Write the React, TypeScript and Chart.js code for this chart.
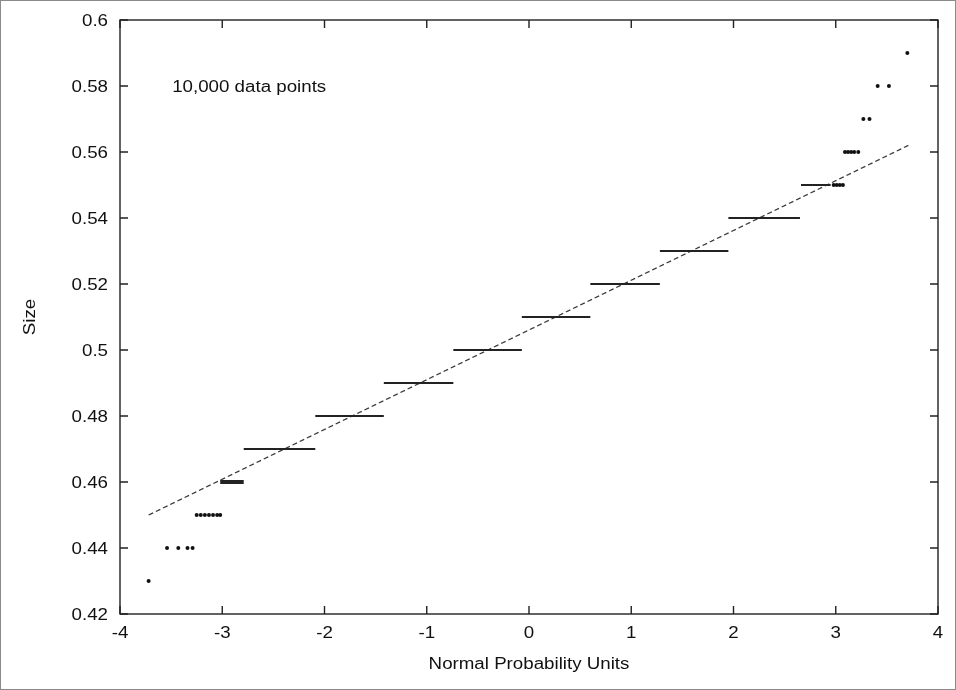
import React, { useEffect, useRef } from "react";
import { Chart, registerables } from "chart.js";

Chart.register(...registerables);

// Quantised size levels that appear as long runs of points
const levels = [0.46, 0.47, 0.48, 0.49, 0.5, 0.51, 0.52, 0.53, 0.54, 0.55];
const segStart = [-3.02, -2.79, -2.09, -1.42, -0.74, -0.07, 0.6, 1.28, 1.95, 2.66];
const segEnd = [-2.79, -2.09, -1.42, -0.74, -0.07, 0.6, 1.28, 1.95, 2.65, 2.95];

// Sparse points in the tails
const tailX = [
  -3.72,
  -3.54, -3.43, -3.34, -3.29,
  -3.25, -3.21, -3.17, -3.13, -3.09, -3.05, -3.02,
  2.98, 3.01, 3.04, 3.07,
  3.09, 3.12, 3.15, 3.18, 3.22,
  3.27, 3.33,
  3.41, 3.52,
  3.7,
];
const tailY = [
  0.43,
  0.44, 0.44, 0.44, 0.44,
  0.45, 0.45, 0.45, 0.45, 0.45, 0.45, 0.45,
  0.55, 0.55, 0.55, 0.55,
  0.56, 0.56, 0.56, 0.56, 0.56,
  0.57, 0.57,
  0.58, 0.58,
  0.59,
];

// Fitted normal line
const fitX = [-3.72, 3.71];
const fitY = [0.45, 0.562];

const xTicks = [-4, -3, -2, -1, 0, 1, 2, 3, 4];
const yTicks = [0.42, 0.44, 0.46, 0.48, 0.5, 0.52, 0.54, 0.56, 0.58, 0.6];

const FONT = "'Liberation Sans', Arial, Helvetica, sans-serif";
const INK = "#222222";
const STRETCH = 1.17;

// Text drawn slightly widened, in the style of the original PostScript output
function wideText(ctx: CanvasRenderingContext2D, text: string, x: number, y: number, align: CanvasTextAlign) {
  ctx.save();
  ctx.translate(x, y);
  ctx.scale(STRETCH, 1);
  ctx.textAlign = align;
  ctx.fillText(text, 0, 0);
  ctx.restore();
}

const fmtY = (v: number) => String(Number(v.toFixed(2)));

const framePlugin = {
  id: "frame",
  beforeDraw(chart: any) {
    const { ctx, width, height } = chart;
    ctx.save();
    ctx.fillStyle = "#ffffff";
    ctx.fillRect(0, 0, width, height);
    ctx.strokeStyle = "#8a8a8a";
    ctx.lineWidth = 1;
    ctx.strokeRect(0.5, 0.5, width - 1, height - 1);
    ctx.restore();
  },
  afterDraw(chart: any) {
    const { ctx, chartArea: a, scales } = chart;
    const xs = scales.x;
    const ys = scales.y;
    const tick = 8;
    ctx.save();
    ctx.strokeStyle = INK;
    ctx.lineWidth = 1.4;
    ctx.strokeRect(a.left, a.top, a.right - a.left, a.bottom - a.top);
    ctx.beginPath();
    xTicks.forEach((v) => {
      const px = xs.getPixelForValue(v);
      ctx.moveTo(px, a.bottom);
      ctx.lineTo(px, a.bottom - tick);
      ctx.moveTo(px, a.top);
      ctx.lineTo(px, a.top + tick);
    });
    yTicks.forEach((v) => {
      const py = ys.getPixelForValue(v);
      ctx.moveTo(a.left, py);
      ctx.lineTo(a.left + tick, py);
      ctx.moveTo(a.right, py);
      ctx.lineTo(a.right - tick, py);
    });
    ctx.stroke();

    ctx.fillStyle = "#111";
    ctx.font = `16px ${FONT}`;
    ctx.textBaseline = "middle";

    // tick labels
    xTicks.forEach((v) => {
      wideText(ctx, String(v), xs.getPixelForValue(v), a.bottom + 20, "center");
    });
    yTicks.forEach((v) => {
      wideText(ctx, fmtY(v), a.left - 12, ys.getPixelForValue(v) + 1.5, "right");
    });

    // annotation and axis titles
    wideText(ctx, "10,000 data points", xs.getPixelForValue(-3.49), ys.getPixelForValue(0.58) + 1.5, "left");
    wideText(ctx, "Normal Probability Units", (a.left + a.right) / 2, 665, "center");

    ctx.translate(31, (a.top + a.bottom) / 2);
    ctx.rotate(-Math.PI / 2);
    ctx.scale(STRETCH, 1);
    ctx.textAlign = "center";
    ctx.fillText("Size", 0, 0);
    ctx.restore();
  },
};

export default function App() {
  const ref = useRef<HTMLCanvasElement | null>(null);

  useEffect(() => {
    if (!ref.current) return;

    const segDatasets = levels.map((lv, i) => ({
      type: "line" as const,
      data: [
        { x: segStart[i], y: lv },
        { x: segEnd[i], y: lv },
      ],
      borderColor: INK,
      borderWidth: lv === 0.46 ? 4 : 2,
      pointRadius: 0,
      showLine: true,
    }));

    const chart = new Chart(ref.current, {
      type: "scatter",
      data: {
        datasets: [
          ...segDatasets,
          {
            type: "scatter",
            data: tailX.map((x, i) => ({ x, y: tailY[i] })),
            backgroundColor: "#111",
            borderWidth: 0,
            pointRadius: 2,
          },
          {
            type: "line",
            data: fitX.map((x, i) => ({ x, y: fitY[i] })),
            borderColor: "#3a3a3a",
            borderWidth: 1.3,
            borderDash: [5, 3],
            pointRadius: 0,
            showLine: true,
          },
        ] as any,
      },
      options: {
        responsive: false,
        animation: false,
        layout: { padding: { top: 20, right: 18, left: 0, bottom: 0 } },
        plugins: { legend: { display: false }, tooltip: { enabled: false } },
        scales: {
          x: {
            type: "linear",
            min: -4,
            max: 4,
            grid: { display: false, drawTicks: false },
            border: { display: false },
            afterBuildTicks: (s: any) => {
              s.ticks = xTicks.map((v) => ({ value: v }));
            },
            afterFit: (s: any) => {
              s.height = 76;
            },
            ticks: { display: false },
          },
          y: {
            type: "linear",
            min: 0.42,
            max: 0.6,
            grid: { display: false, drawTicks: false },
            border: { display: false },
            afterBuildTicks: (s: any) => {
              s.ticks = yTicks.map((v) => ({ value: v }));
            },
            afterFit: (s: any) => {
              s.width = 120;
            },
            ticks: { display: false },
          },
        },
      },
      plugins: [framePlugin],
    });

    return () => chart.destroy();
  }, []);

  return (
    <div style={{ position: "absolute", left: 0, top: 0, width: 956, height: 690 }}>
      <canvas ref={ref} width={956} height={690} style={{ display: "block" }} />
    </div>
  );
}
